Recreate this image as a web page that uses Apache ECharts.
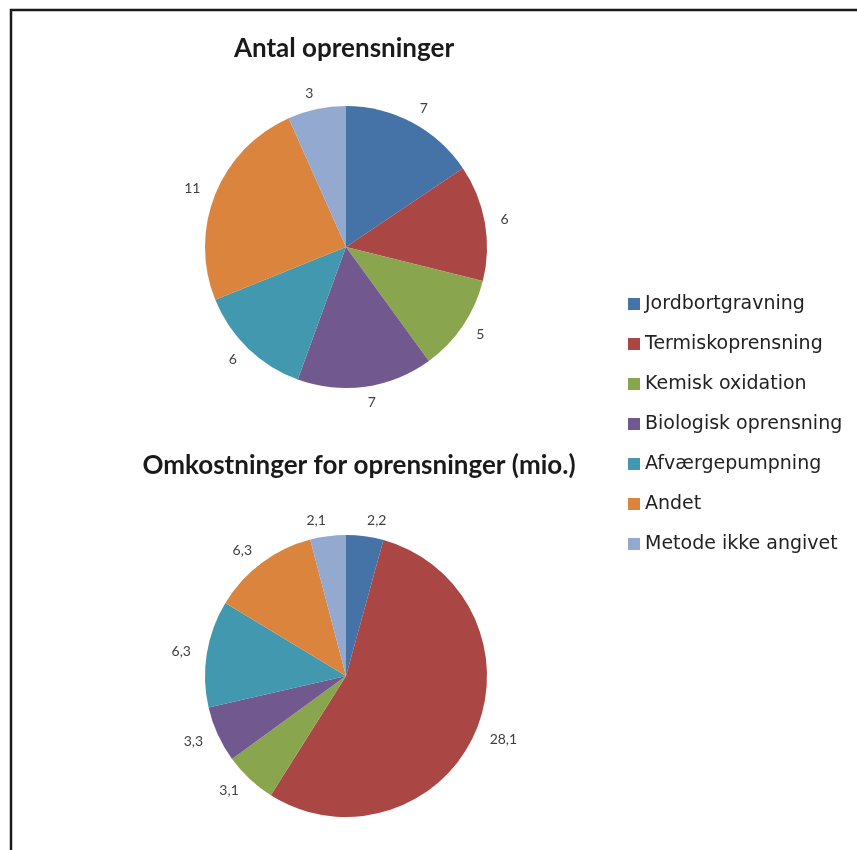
<!DOCTYPE html>
<html><head><meta charset="utf-8">
<script src="https://cdn.jsdelivr.net/npm/echarts@6/dist/echarts.min.js"></script>
<style>html,body{margin:0;padding:0;background:#fff}#c{width:857px;height:850px}</style>
</head><body><div id="c"></div>
<script>
const categories = ['Jordbortgravning','Termiskoprensning','Kemisk oxidation','Biologisk oprensning','Afværgepumpning','Andet','Metode ikke angivet'];
const countValues = [7, 6, 5, 7, 6, 11, 3];
const costValues = [2.2, 28.1, 3.1, 3.3, 6.3, 6.3, 2.1];
const titles = ['Antal oprensninger', 'Omkostninger for oprensninger (mio.)'];
const colors = ['#4572A7','#AA4643','#89A54E','#71588F','#4198AF','#DB843D','#93A9CF'];

const font = 'Lato, "Open Sans", sans-serif';
function mk(vals){ return categories.map((n,i)=>({name:n, value:vals[i]})); }
const labelCfg = {
  show:true, position:'outside', color:'#404040', fontSize:14, fontFamily:font,
  distanceToLabelLine:0,
  formatter: p => String(p.value).replace('.', ',')
};
const chart = echarts.init(document.getElementById('c'), null, {renderer:'canvas'});
chart.setOption({
  animation:false,
  color: colors,
  graphic:[{type:'rect', shape:{x:11, y:10, width:900, height:900}, style:{fill:'none', stroke:'#1a1a1a', lineWidth:2.5}, z:100}],
  title:[
    {text:titles[0], left:339, top:31, textAlign:'center', textStyle:{fontSize:26, fontWeight:'bold', color:'#1a1a1a', fontFamily:font}},
    {text:titles[1], left:354, top:448, textAlign:'center', textStyle:{fontSize:26, fontWeight:'bold', color:'#1a1a1a', fontFamily:font}}
  ],
  legend:{
    orient:'vertical', left:623, top:288, itemWidth:12, itemHeight:12, itemGap:18, icon:'rect',
    data: categories,
    textStyle:{fontSize:19, lineHeight:22, color:'#222', fontFamily:'"DejaVu Sans", sans-serif'}
  },
  series:[
    {type:'pie', center:[346,247], radius:141, startAngle:90, clockwise:true, data:mk(countValues),
     label:labelCfg, labelLine:{show:false, length:16, length2:0}, avoidLabelOverlap:false},
    {type:'pie', center:[346,676], radius:141, startAngle:90, clockwise:true, data:mk(costValues),
     label:labelCfg, labelLine:{show:false, length:16, length2:0}, avoidLabelOverlap:false}
  ]
});
</script></body></html>
